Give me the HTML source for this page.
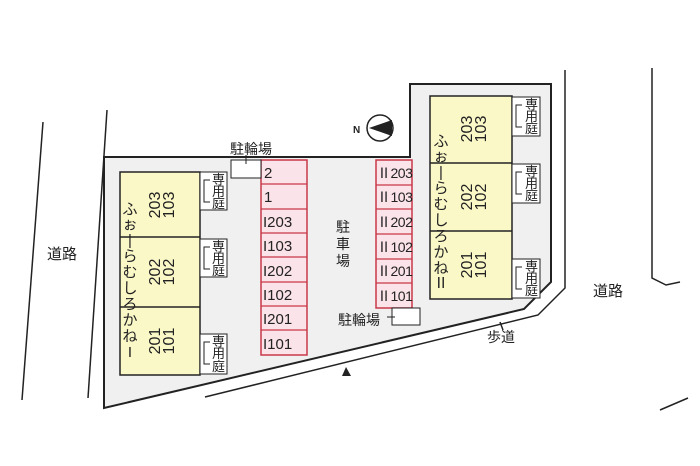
<!DOCTYPE html>
<html><head><meta charset="utf-8"><style>
html,body{margin:0;padding:0;background:#fff;}
svg{display:block;}
text{font-family:"Liberation Sans","Noto Sans CJK JP",sans-serif;fill:#222;}
</style></head><body>
<svg width="700" height="466" viewBox="0 0 700 466" xmlns="http://www.w3.org/2000/svg">
<polygon points="104,157 410,157 410,84 551,84 551,282 524,309 104,408" fill="#f0f0f0" stroke="#222" stroke-width="2"/>
<g stroke="#222" stroke-width="1.5" fill="none">
<line x1="43" y1="122" x2="22" y2="400"/>
<line x1="107" y1="110" x2="88" y2="398"/>
<polyline points="565,70 565,288 538,315 205,397"/>
<polyline points="652,68 652,278 666,285 680,282"/>
<line x1="660" y1="410" x2="688" y2="398"/>
<line x1="500" y1="322" x2="503" y2="330"/>
</g>
<g stroke="#222" stroke-width="1.5">
<rect x="120" y="172" width="80" height="203" fill="#fbf8c8"/>
<line x1="120" y1="237" x2="200" y2="237"/>
<line x1="120" y1="307" x2="200" y2="307"/>
<rect x="430" y="96" width="82" height="203" fill="#fbf8c8"/>
<line x1="430" y1="163" x2="512" y2="163"/>
<line x1="430" y1="231" x2="512" y2="231"/>
</g>
<g font-size="13">
<g transform="translate(200,172)"><rect x="0" y="0" width="27" height="38" fill="#fff" stroke="#222"/><polyline points="10,8 4,8 4,30 10,30" fill="none" stroke="#222"/><text x="12" y="12">専</text><text x="12" y="24">用</text><text x="12" y="36">庭</text></g>
<g transform="translate(200,239)"><rect x="0" y="0" width="27" height="38" fill="#fff" stroke="#222"/><polyline points="10,8 4,8 4,30 10,30" fill="none" stroke="#222"/><text x="12" y="12">専</text><text x="12" y="24">用</text><text x="12" y="36">庭</text></g>
<g transform="translate(200,334)"><rect x="0" y="0" width="27" height="40" fill="#fff" stroke="#222"/><polyline points="10,8 4,8 4,30 10,30" fill="none" stroke="#222"/><text x="12" y="12">専</text><text x="12" y="24">用</text><text x="12" y="37">庭</text></g>
<g transform="translate(512,97)"><rect x="0" y="0" width="28" height="39" fill="#fff" stroke="#222"/><polyline points="10,8 4,8 4,30 10,30" fill="none" stroke="#222"/><text x="13" y="12">専</text><text x="13" y="24">用</text><text x="13" y="36">庭</text></g>
<g transform="translate(512,164)"><rect x="0" y="0" width="28" height="39" fill="#fff" stroke="#222"/><polyline points="10,8 4,8 4,30 10,30" fill="none" stroke="#222"/><text x="13" y="12">専</text><text x="13" y="24">用</text><text x="13" y="36">庭</text></g>
<g transform="translate(512,259)"><rect x="0" y="0" width="28" height="39" fill="#fff" stroke="#222"/><polyline points="10,8 4,8 4,30 10,30" fill="none" stroke="#222"/><text x="13" y="12">専</text><text x="13" y="24">用</text><text x="13" y="36">庭</text></g>
</g>
<g font-size="16">
<text transform="translate(160,205) rotate(-90)" text-anchor="middle">203</text>
<text transform="translate(174,205) rotate(-90)" text-anchor="middle">103</text>
<text transform="translate(160,272) rotate(-90)" text-anchor="middle">202</text>
<text transform="translate(174,272) rotate(-90)" text-anchor="middle">102</text>
<text transform="translate(160,341) rotate(-90)" text-anchor="middle">201</text>
<text transform="translate(174,341) rotate(-90)" text-anchor="middle">101</text>
<text transform="translate(472,129) rotate(-90)" text-anchor="middle">203</text>
<text transform="translate(486,129) rotate(-90)" text-anchor="middle">103</text>
<text transform="translate(472,197) rotate(-90)" text-anchor="middle">202</text>
<text transform="translate(486,197) rotate(-90)" text-anchor="middle">102</text>
<text transform="translate(472,265) rotate(-90)" text-anchor="middle">201</text>
<text transform="translate(486,265) rotate(-90)" text-anchor="middle">101</text>
</g>
<g font-size="15" text-anchor="middle">
<text x="130" y="214">ふ</text><text x="130" y="229">ぉ</text><text x="130" y="245">|</text><text x="130" y="261">ら</text><text x="130" y="277">む</text><text x="130" y="293">し</text><text x="130" y="309">ろ</text><text x="130" y="325">か</text><text x="130" y="341">ね</text><text x="130" y="357">I</text>
<text x="441" y="146">ふ</text><text x="441" y="161">ぉ</text><text x="441" y="177">|</text><text x="441" y="193">ら</text><text x="441" y="209">む</text><text x="441" y="225">し</text><text x="441" y="241">ろ</text><text x="441" y="257">か</text><text x="441" y="273">ね</text><text x="441" y="288">Ⅱ</text>
</g>
<rect x="261" y="160" width="46" height="195" fill="#fbe3ea" stroke="#c83848" stroke-width="1.5"/>
<g stroke="#c83848" stroke-width="1.2">
<line x1="261" y1="184" x2="307" y2="184"/><line x1="261" y1="209" x2="307" y2="209"/><line x1="261" y1="233" x2="307" y2="233"/><line x1="261" y1="257" x2="307" y2="257"/><line x1="261" y1="282" x2="307" y2="282"/><line x1="261" y1="306" x2="307" y2="306"/><line x1="261" y1="330" x2="307" y2="330"/>
</g>
<g font-size="15">
<text x="264" y="178">2</text><text x="264" y="202">1</text><text x="263" y="227">I203</text><text x="263" y="251">I103</text><text x="263" y="276">I202</text><text x="263" y="300">I102</text><text x="263" y="324">I201</text><text x="263" y="349">I101</text>
</g>
<rect x="376" y="160" width="36" height="148" fill="#fbe3ea" stroke="#c83848" stroke-width="1.5"/>
<g stroke="#c83848" stroke-width="1.2">
<line x1="376" y1="185" x2="412" y2="185"/><line x1="376" y1="209" x2="412" y2="209"/><line x1="376" y1="234" x2="412" y2="234"/><line x1="376" y1="259" x2="412" y2="259"/><line x1="376" y1="283" x2="412" y2="283"/>
</g>
<g font-size="14" letter-spacing="-0.5">
<text x="377" y="178">Ⅱ203</text><text x="377" y="202">Ⅱ103</text><text x="377" y="227">Ⅱ202</text><text x="377" y="252">Ⅱ102</text><text x="377" y="276">Ⅱ201</text><text x="377" y="301">Ⅱ101</text>
</g>
<rect x="231" y="160" width="30" height="18" fill="#fff" stroke="#222"/>
<line x1="246" y1="155" x2="246" y2="164" stroke="#222"/>
<text x="230" y="154" font-size="14">駐輪場</text>
<rect x="392" y="308" width="28" height="17" fill="#fff" stroke="#222"/>
<line x1="387" y1="317" x2="395" y2="317" stroke="#222"/>
<text x="338" y="325" font-size="14">駐輪場</text>
<g font-size="14" text-anchor="middle"><text x="343" y="232">駐</text><text x="343" y="249">車</text><text x="343" y="266">場</text></g>
<circle cx="380" cy="128" r="13" fill="#fff" stroke="#222" stroke-width="1.5"/>
<polygon points="369,128 392,120 392,136" fill="#222"/>
<text x="353" y="133" font-size="10" font-weight="bold">N</text>
<text x="47" y="259" font-size="15">道路</text>
<text x="593" y="296" font-size="15">道路</text>
<text x="487" y="342" font-size="14">歩道</text>
<polygon points="346,367 342,376 351,376" fill="#222"/>
</svg>
</body></html>
